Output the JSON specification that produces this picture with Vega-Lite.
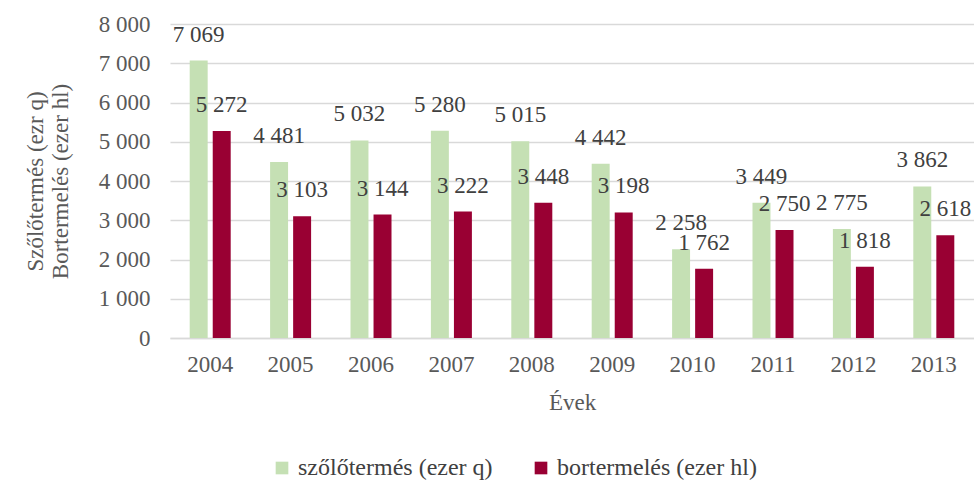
{
  "$schema": "https://vega.github.io/schema/vega-lite/v6.json",
  "width": 804,
  "height": 314,
  "autosize": {"type": "none"},
  "padding": {"left": 170, "top": 24, "right": 0, "bottom": 147},
  "background": "white",
  "config": {
    "view": {"stroke": null},
    "font": "Liberation Serif",
    "locale": {"number": {"decimal": ",", "thousands": " ", "grouping": [3], "currency": ["", ""]}}
  },
  "data": {"values": [
    {"year": "2004", "series": "szőlőtermés (ezer q)", "value": 7069},
    {"year": "2004", "series": "bortermelés (ezer hl)", "value": 5272},
    {"year": "2005", "series": "szőlőtermés (ezer q)", "value": 4481},
    {"year": "2005", "series": "bortermelés (ezer hl)", "value": 3103},
    {"year": "2006", "series": "szőlőtermés (ezer q)", "value": 5032},
    {"year": "2006", "series": "bortermelés (ezer hl)", "value": 3144},
    {"year": "2007", "series": "szőlőtermés (ezer q)", "value": 5280},
    {"year": "2007", "series": "bortermelés (ezer hl)", "value": 3222},
    {"year": "2008", "series": "szőlőtermés (ezer q)", "value": 5015},
    {"year": "2008", "series": "bortermelés (ezer hl)", "value": 3448},
    {"year": "2009", "series": "szőlőtermés (ezer q)", "value": 4442},
    {"year": "2009", "series": "bortermelés (ezer hl)", "value": 3198},
    {"year": "2010", "series": "szőlőtermés (ezer q)", "value": 2258},
    {"year": "2010", "series": "bortermelés (ezer hl)", "value": 1762},
    {"year": "2011", "series": "szőlőtermés (ezer q)", "value": 3449},
    {"year": "2011", "series": "bortermelés (ezer hl)", "value": 2750},
    {"year": "2012", "series": "szőlőtermés (ezer q)", "value": 2775},
    {"year": "2012", "series": "bortermelés (ezer hl)", "value": 1818},
    {"year": "2013", "series": "szőlőtermés (ezer q)", "value": 3862},
    {"year": "2013", "series": "bortermelés (ezer hl)", "value": 2618}
  ]},
  "encoding": {
    "x": {
      "field": "year", "type": "nominal",
      "scale": {"paddingInner": 0.49, "paddingOuter": 0.245},
      "axis": {
        "title": "Évek", "labelAngle": 0, "ticks": false,
        "domainColor": "#d9d9d9", "domainWidth": 1.5,
        "labelFont": "Liberation Serif", "titleFont": "Liberation Serif",
        "labelFontSize": 23, "labelColor": "#595959", "labelPadding": 15,
        "titleFontSize": 23, "titleColor": "#595959", "titleFontWeight": "normal", "titlePadding": 15
      }
    },
    "xOffset": {
      "field": "series", "type": "nominal",
      "sort": ["szőlőtermés (ezer q)", "bortermelés (ezer hl)"],
      "scale": {"paddingInner": 0.22, "paddingOuter": 0}
    },
    "y": {
      "field": "value", "type": "quantitative",
      "scale": {"domain": [0, 8000], "nice": false},
      "axis": {
        "title": ["Szőlőtermés (ezr q)", "Bortermelés (ezer hl)"],
        "tickCount": 8, "format": ",d", "ticks": false, "domain": false,
        "gridColor": "#d9d9d9", "gridWidth": 1.5,
        "labelFont": "Liberation Serif", "titleFont": "Liberation Serif",
        "labelFontSize": 23, "labelColor": "#595959", "labelPadding": 20,
        "titleFontSize": 23, "titleColor": "#595959", "titleFontWeight": "normal",
        "titlePadding": 26, "titleLineHeight": 25
      }
    }
  },
  "layer": [
    {
      "mark": {"type": "bar"},
      "encoding": {
        "color": {
          "field": "series", "type": "nominal",
          "sort": ["szőlőtermés (ezer q)", "bortermelés (ezer hl)"],
          "scale": {"domain": ["szőlőtermés (ezer q)", "bortermelés (ezer hl)"], "range": ["#c5e0b4", "#990033"]},
          "legend": {
            "title": null, "orient": "none", "legendX": 100, "legendY": 432, "direction": "horizontal",
            "symbolType": "square", "symbolSize": 160, "symbolStrokeWidth": 0,
            "labelFont": "Liberation Serif",
            "labelFontSize": 24, "labelColor": "#404040", "labelLimit": 400, "columnPadding": 36,
            "labelOffset": 4
          }
        }
      }
    },
    {
      "mark": {"type": "text", "font": "Liberation Serif", "baseline": "middle", "dy": -26, "fontSize": 23, "color": "#404040"},
      "encoding": {
        "text": {"field": "value", "type": "quantitative", "format": ",d"}
      }
    }
  ]
}
